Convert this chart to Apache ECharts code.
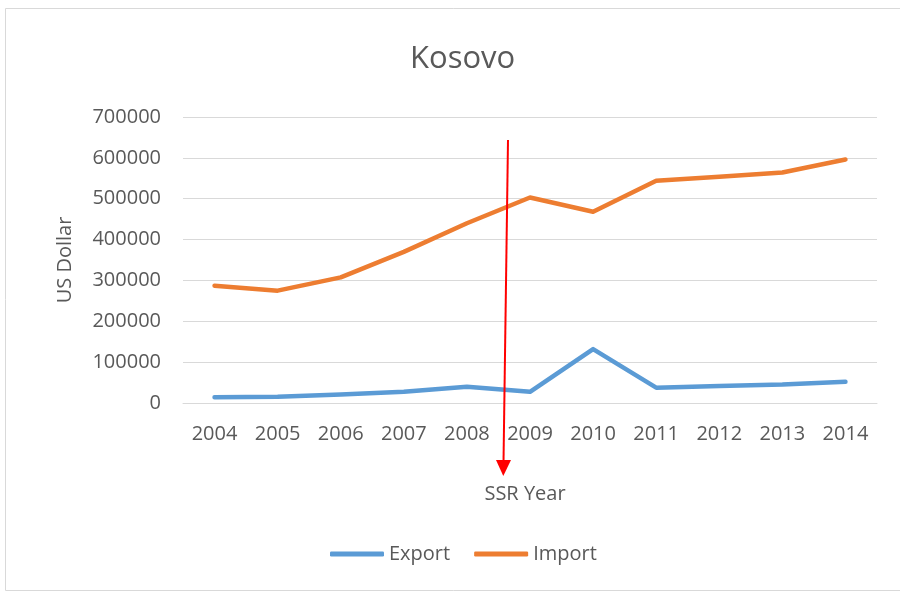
<!DOCTYPE html>
<html>
<head>
<meta charset="utf-8">
<script src="https://cdn.jsdelivr.net/npm/echarts@6/dist/echarts.min.js"></script>
<style>
  html, body { margin: 0; padding: 0; background: #fff; }
  #chart { width: 900px; height: 595px; }
</style>
</head>
<body>
<div id="chart"></div>
<script>
var years = ['2004', '2005', '2006', '2007', '2008', '2009', '2010', '2011', '2012', '2013', '2014']
var exportData = [14000, 15500, 21000, 27500, 40000, 27500, 132000, 37500, 41500, 45000, 52000]
var importData = [287000, 275000, 307500, 370000, 440000, 503000, 468000, 544000, 554000, 564000, 596000]

var chart = echarts.init(document.getElementById('chart'))
var textColor = '#595959'
var font = 'Open Sans'

var option = {
  animation: false,
  title: {
    text: 'Kosovo',
    left: 405,
    top: 39,
    textStyle: { color: textColor, fontSize: 31, fontWeight: 'normal', fontFamily: font }
  },
  legend: {
    bottom: 26,
    left: 325,
    itemWidth: 54,
    itemHeight: 5,
    itemGap: 24,
    icon: 'roundRect',
    textStyle: { color: textColor, fontSize: 20, fontFamily: font },
    data: ['Export', 'Import']
  },
  grid: { left: 183, right: 23, top: 117, bottom: 192 },
  xAxis: {
    type: 'category',
    data: years,
    name: 'SSR Year',
    nameLocation: 'middle',
    nameGap: 81,
    nameTextStyle: { color: textColor, fontSize: 20, fontFamily: font, padding: [0, 10, 0, 0] },
    axisLine: { lineStyle: { color: '#d9d9d9' } },
    axisTick: { show: false },
    axisLabel: { color: textColor, fontSize: 20, fontFamily: font, margin: 21 }
  },
  yAxis: {
    type: 'value',
    min: 0,
    max: 700000,
    interval: 100000,
    name: 'US Dollar',
    nameLocation: 'middle',
    nameGap: 108,
    nameTextStyle: { color: textColor, fontSize: 20, fontFamily: font },
    axisLine: { show: false },
    axisTick: { show: false },
    splitLine: { lineStyle: { color: '#d9d9d9', width: 1 } },
    axisLabel: {
      color: textColor, fontSize: 20, fontFamily: font, margin: 22,
      formatter: function (v) { return String(v) }
    }
  },
  series: [{
    name: 'Export',
    type: 'line',
    data: exportData,
    symbol: 'none',
    color: '#5B9BD5',
    lineStyle: { width: 4.5, cap: 'round', join: 'round' }
  }, {
    name: 'Import',
    type: 'line',
    data: importData,
    symbol: 'none',
    color: '#ED7D31',
    lineStyle: { width: 4.5, cap: 'round', join: 'round' }
  }],
  graphic: [{
    type: 'rect',
    shape: { x: 5.5, y: 8.5, width: 900, height: 582 },
    style: { fill: 'none', stroke: '#d9d9d9', lineWidth: 1 },
    silent: true
  }, {
    // red annotation arrow
    type: 'line',
    shape: { x1: 508, y1: 140, x2: 503.5, y2: 462 },
    style: { stroke: '#ff0000', lineWidth: 2 },
    z: 100
  }, {
    type: 'polygon',
    shape: { points: [[496, 460], [511, 460], [503.3, 476]] },
    style: { fill: '#ff0000' },
    z: 100
  }]
}
chart.setOption(option)
</script>
</body>
</html>
